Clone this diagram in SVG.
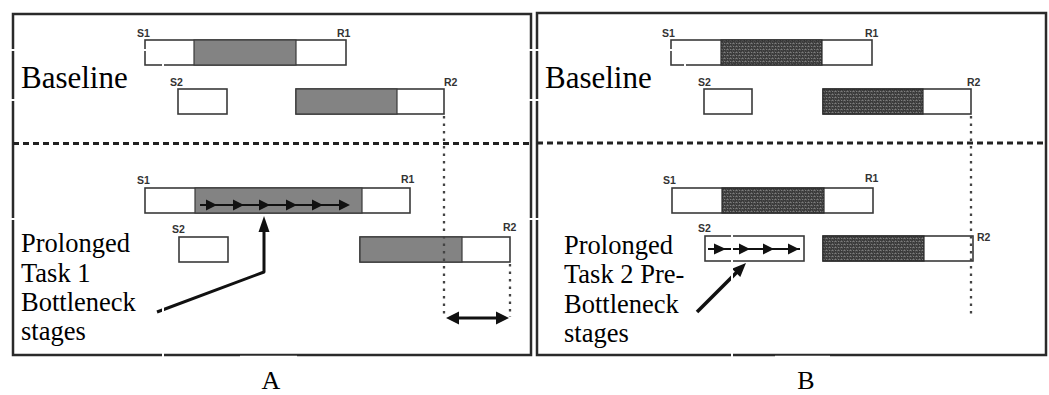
<svg xmlns="http://www.w3.org/2000/svg" width="1049" height="395" viewBox="0 0 1049 395">
<defs>
<pattern id="tex" width="6" height="6" patternUnits="userSpaceOnUse">
<rect width="6" height="6" fill="#3a3a3a"/>
<path d="M0.5 1.8 q1 -1.2 2 0 M3.5 4.8 q1 -1.2 2 0 M1 3.8 l1 1 M4 0.8 l1 1" stroke="#c4c4c4" stroke-width="0.8" fill="none"/>
</pattern>
<style>
.panel{fill:none;stroke:#2a2a2a;stroke-width:2.5}
.bar{fill:#fff;stroke:#3a3a3a;stroke-width:1.6}
.gray{fill:#838383;stroke:#3a3a3a;stroke-width:1.2}
.tex{fill:url(#tex);stroke:#2a2a2a;stroke-width:1.2}
.lbl{font-family:"Liberation Sans",Arial,sans-serif;font-weight:bold;font-size:10.5px;fill:#333}
.big{font-family:"Liberation Serif","Times New Roman",serif;fill:#000}
.dash{stroke:#222;stroke-width:2.8;stroke-dasharray:6 4;fill:none}
.dot{stroke:#444;stroke-width:2.3;stroke-dasharray:2.5 5;fill:none}
.ln{stroke:#111;fill:none}
.hd{fill:#111}
.art{stroke:#fff;stroke-width:2;fill:none}
</style>
</defs>
<rect width="1049" height="395" fill="#fff"/>

<g id="panelA-frame">
<rect class="panel" x="13" y="14" width="518" height="341"/>
<line class="dash" x1="13" y1="143.5" x2="531" y2="143.5"/>
</g>
<g id="panelB-frame">
<rect class="panel" x="537" y="13" width="509" height="342"/>
<line class="dash" x1="537" y1="143" x2="1046" y2="143"/>
</g>

<g id="A-base-task1">
<rect class="bar" x="145" y="40" width="201" height="25"/>
<rect class="gray" x="194" y="40" width="102" height="25"/>
<text class="lbl" x="137" y="37">S1</text>
<text class="lbl" x="337" y="37">R1</text>
</g>
<g id="A-base-task2">
<rect class="bar" x="178" y="89" width="49" height="25"/>
<rect class="bar" x="296" y="89" width="148" height="25"/>
<rect class="gray" x="296" y="89" width="101" height="25"/>
<text class="lbl" x="170" y="86">S2</text>
<text class="lbl" x="444" y="86">R2</text>
</g>
<g id="A-prol-task1">
<rect class="bar" x="145" y="188" width="265" height="25"/>
<rect class="gray" x="195" y="188" width="167" height="25"/>
<line class="ln" stroke-width="2.2" x1="200" y1="205" x2="345" y2="205"/>
<polygon class="hd" points="217,205 206,199.5 206,210.5"/>
<polygon class="hd" points="244,205 233,199.5 233,210.5"/>
<polygon class="hd" points="270,205 259,199.5 259,210.5"/>
<polygon class="hd" points="297,205 286,199.5 286,210.5"/>
<polygon class="hd" points="323,205 312,199.5 312,210.5"/>
<polygon class="hd" points="350,205 339,199.5 339,210.5"/>
<text class="lbl" x="137" y="184">S1</text>
<text class="lbl" x="401" y="183">R1</text>
</g>
<g id="A-prol-task2">
<rect class="bar" x="179" y="237" width="49" height="25"/>
<rect class="bar" x="360" y="237" width="150" height="25"/>
<rect class="gray" x="360" y="237" width="102" height="25"/>
<text class="lbl" x="172" y="233">S2</text>
<text class="lbl" x="503" y="231">R2</text>
</g>

<g id="B-base-task1">
<rect class="bar" x="671" y="40" width="201" height="25"/>
<rect class="tex" x="721" y="40" width="101" height="25"/>
<text class="lbl" x="662" y="37">S1</text>
<text class="lbl" x="865" y="37">R1</text>
</g>
<g id="B-base-task2">
<rect class="bar" x="704" y="89" width="48" height="25"/>
<rect class="bar" x="823" y="89" width="148" height="25"/>
<rect class="tex" x="823" y="89" width="100" height="25"/>
<text class="lbl" x="698" y="86">S2</text>
<text class="lbl" x="967" y="86">R2</text>
</g>
<g id="B-prol-task1">
<rect class="bar" x="672" y="188" width="201" height="25"/>
<rect class="tex" x="722" y="188" width="102" height="25"/>
<text class="lbl" x="663" y="184">S1</text>
<text class="lbl" x="865" y="182">R1</text>
</g>
<g id="B-prol-task2">
<rect class="bar" x="705" y="236" width="99" height="25"/>
<line class="ln" stroke-width="2" x1="708" y1="249" x2="800" y2="249"/>
<polygon class="hd" points="726,249 714,243.5 714,254.5"/>
<polygon class="hd" points="750,249 739,243.5 739,254.5"/>
<polygon class="hd" points="774,249 763,243.5 763,254.5"/>
<polygon class="hd" points="799,249 788,243.5 788,254.5"/>
<rect class="bar" x="823" y="236" width="150" height="25"/>
<rect class="tex" x="823" y="236" width="101" height="25"/>
<text class="lbl" x="698" y="232">S2</text>
<text class="lbl" x="977" y="241">R2</text>
</g>

<g id="connectors">
<line class="dot" x1="444" y1="116" x2="444" y2="317"/>
<line class="dot" x1="510" y1="264" x2="510" y2="317"/>
<line class="dot" x1="971" y1="116" x2="971" y2="318"/>
<line class="ln" stroke-width="3" x1="456" y1="318" x2="499" y2="318"/>
<polygon class="hd" points="446,318 459,311.5 459,324.5"/>
<polygon class="hd" points="509,318 496,311.5 496,324.5"/>
<polyline class="ln" stroke-width="3" stroke-linejoin="round" points="157,312 264,272 264,230"/>
<polygon class="hd" points="264,216 258.5,232 269.5,232"/>
<line class="ln" stroke-width="3.5" x1="697" y1="312" x2="737" y2="272"/>
<polygon class="hd" points="746,263 740.3,277.1 731.9,268.7"/>
</g>

<g id="artifacts">
<polyline class="art" points="6,50 163,50 163,100 6,100"/>
<polyline class="art" points="6,219 163,219 163,360"/>
<polyline class="art" points="524,50 685,50 685,100 524,100"/>
<polyline class="art" points="524,219 732,219 732,360"/>
<line class="art" x1="240" y1="356.8" x2="297" y2="356.8"/>
<line class="art" x1="775" y1="356.8" x2="830" y2="356.8"/>
</g>

<g id="text-A">
<text class="big" x="21" y="88" font-size="31">Baseline</text>
<text class="big" font-size="26.5"><tspan x="21" y="252">Prolonged</tspan><tspan x="21" y="282">Task 1</tspan><tspan x="21" y="311">Bottleneck</tspan><tspan x="21" y="340">stages</tspan></text>
<text class="big" x="271" y="389" font-size="26" text-anchor="middle">A</text>
</g>
<g id="text-B">
<text class="big" x="545" y="88" font-size="31">Baseline</text>
<text class="big" font-size="26.5"><tspan x="564" y="254">Prolonged</tspan><tspan x="564" y="283">Task 2 Pre-</tspan><tspan x="564" y="313">Bottleneck</tspan><tspan x="564" y="342">stages</tspan></text>
<text class="big" x="806" y="389" font-size="26" text-anchor="middle">B</text>
</g>
</svg>
